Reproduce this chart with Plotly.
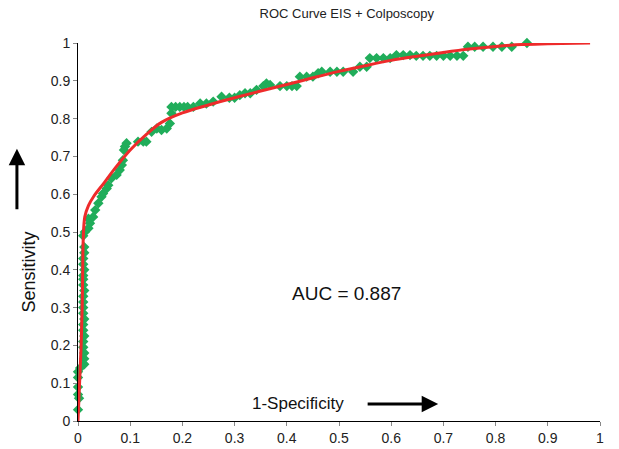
import plotly.graph_objects as go

# Observed ROC points (1-Specificity, Sensitivity)
fpr = [0.000, 0.002, 0.000, 0.000, 0.000, 0.000, 0.004,
       0.012, 0.012, 0.012, 0.010, 0.010, 0.012, 0.010, 0.010, 0.012, 0.010, 0.010, 0.010,
       0.010, 0.012, 0.010, 0.010, 0.010, 0.012, 0.010, 0.010, 0.012, 0.012,
       0.010, 0.013, 0.020, 0.023, 0.020, 0.029, 0.033, 0.039, 0.045, 0.048, 0.055, 0.058,
       0.064, 0.074, 0.080, 0.084, 0.086, 0.088, 0.090, 0.093,
       0.115, 0.125, 0.131, 0.141, 0.151, 0.160, 0.170, 0.176, 0.179, 0.179, 0.187, 0.195,
       0.203, 0.210, 0.221, 0.234, 0.246, 0.259, 0.275, 0.290, 0.300, 0.310, 0.320, 0.330,
       0.342, 0.355, 0.361, 0.368, 0.387, 0.400, 0.410, 0.419,
       0.425, 0.438, 0.450, 0.460, 0.467, 0.483, 0.496, 0.508, 0.527, 0.540, 0.553,
       0.559, 0.572, 0.585, 0.598, 0.610, 0.623, 0.636, 0.648, 0.661, 0.674, 0.687, 0.700,
       0.713, 0.726, 0.738, 0.747, 0.760, 0.776, 0.795, 0.812, 0.831, 0.860]
tpr = [0.030, 0.060, 0.070, 0.090, 0.115, 0.130, 0.140,
       0.150, 0.165, 0.180, 0.195, 0.210, 0.225, 0.240, 0.255, 0.270, 0.285, 0.300, 0.315,
       0.330, 0.345, 0.360, 0.375, 0.385, 0.400, 0.415, 0.430, 0.445, 0.460,
       0.490, 0.500, 0.510, 0.523, 0.535, 0.540, 0.558, 0.576, 0.593, 0.602, 0.615, 0.624,
       0.642, 0.651, 0.664, 0.677, 0.690, 0.717, 0.726, 0.735,
       0.739, 0.739, 0.739, 0.765, 0.774, 0.770, 0.774, 0.787, 0.814, 0.831, 0.831, 0.831,
       0.831, 0.831, 0.831, 0.840, 0.840, 0.845, 0.858, 0.855, 0.855, 0.862, 0.867, 0.867,
       0.876, 0.886, 0.893, 0.889, 0.886, 0.886, 0.886, 0.886,
       0.911, 0.911, 0.911, 0.920, 0.924, 0.924, 0.924, 0.924, 0.924, 0.937, 0.937,
       0.960, 0.960, 0.960, 0.960, 0.968, 0.968, 0.968, 0.966, 0.966, 0.966, 0.966, 0.966,
       0.966, 0.966, 0.966, 0.990, 0.990, 0.990, 0.990, 0.990, 0.990, 1.000]

# Fitted smooth ROC curve
fit_x = [0.000, 0.003, 0.006, 0.008, 0.009, 0.010, 0.013, 0.020, 0.030, 0.050, 0.070,
         0.100, 0.130, 0.160, 0.200, 0.250, 0.300, 0.350, 0.400, 0.450, 0.500, 0.550,
         0.600, 0.650, 0.700, 0.750, 0.800, 0.850, 0.900, 0.981]
fit_y = [0.000, 0.100, 0.200, 0.300, 0.400, 0.480, 0.540, 0.570, 0.594, 0.630, 0.667,
         0.717, 0.757, 0.790, 0.815, 0.836, 0.855, 0.873, 0.890, 0.908, 0.925, 0.940,
         0.954, 0.965, 0.975, 0.984, 0.991, 0.996, 0.998, 1.000]

ticks = [0, 0.1, 0.2, 0.3, 0.4, 0.5, 0.6, 0.7, 0.8, 0.9, 1]
tick_text = ["0", "0.1", "0.2", "0.3", "0.4", "0.5", "0.6", "0.7", "0.8", "0.9", "1"]

FONT = "Liberation Sans, Arial, sans-serif"

fig = go.Figure()
fig.add_trace(go.Scatter(
    x=fpr, y=tpr, mode="markers",
    marker=dict(symbol="diamond", size=8, color="#20AD5A", line=dict(width=0)),
    cliponaxis=False, showlegend=False))
fig.add_trace(go.Scatter(
    x=fit_x, y=fit_y, mode="lines", line=dict(color="#EE2B2B", width=3, shape="spline"),
    cliponaxis=False, showlegend=False))

axis_common = dict(
    tickvals=ticks, ticktext=tick_text, showgrid=False, zeroline=False,
    showline=True, linecolor="black", linewidth=1, ticks="outside", ticklen=4,
    tickcolor="#888888", tickfont=dict(family=FONT, size=14, color="#222222"),
    range=[0, 1], fixedrange=True, automargin=False)

fig.update_layout(
    width=619, height=449,
    margin=dict(l=78, r=19, t=43, b=28, autoexpand=False),
    paper_bgcolor="white", plot_bgcolor="white",
    font=dict(family=FONT, color="#222222"),
    title=dict(text="ROC Curve EIS + Colposcopy", x=0.515, xanchor="center",
               xref="paper", y=1 - 13 / 449, yanchor="middle", yref="container",
               automargin=False,
               font=dict(family=FONT, size=13, color="#222222")),
    xaxis=axis_common, yaxis=axis_common,
    annotations=[
        dict(text="AUC = 0.887", x=0.515, y=0.336, xref="x", yref="y", showarrow=False,
             font=dict(family=FONT, size=19, color="#111111")),
        dict(text="1-Specificity", x=0.421, y=0.045, xref="x", yref="y", showarrow=False,
             font=dict(family=FONT, size=17, color="#111111")),
        dict(text="", x=0.690, y=0.045, ax=0.552, ay=0.045, xref="x", yref="y",
             axref="x", ayref="y", showarrow=True, arrowhead=2, arrowsize=1.1,
             arrowwidth=3, arrowcolor="black"),
        dict(text="Sensitivity", x=-0.117, y=0.395, xref="paper", yref="paper",
             textangle=-90, showarrow=False, font=dict(family=FONT, size=18, color="#111111")),
        dict(text="", x=-0.117, y=0.72, ax=0, ay=62, xref="paper", yref="paper",
             showarrow=True, arrowhead=2, arrowsize=1.1, arrowwidth=3, arrowcolor="black"),
    ],
)

fig.write_html("out.html",
               config={"displayModeBar": False, "staticPlot": True},
               post_script="document.body.style.margin='0';document.body.style.overflow='hidden';")
